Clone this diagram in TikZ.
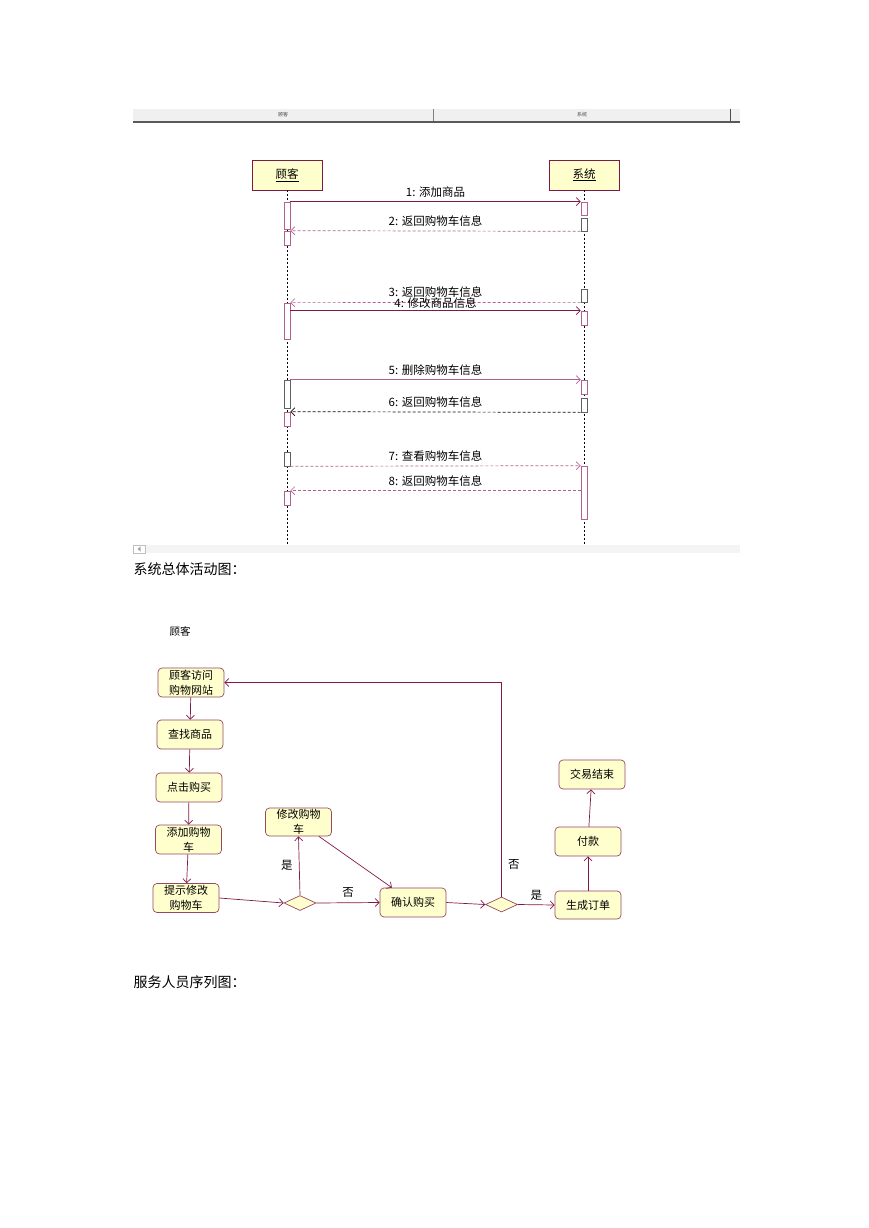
\documentclass[tikz,border=0pt]{standalone}
\usepackage{fontspec}
\newfontfamily\cjk{Noto Sans CJK SC}
\usepackage{tikz}
\usetikzlibrary{shapes.geometric, positioning, arrows.meta}
\definecolor{umlyellow}{RGB}{255,255,206}
\definecolor{umlmaroon}{RGB}{128,24,72}
\definecolor{umlpink}{RGB}{178,96,146}
\definecolor{umlgray}{RGB}{96,96,96}
\definecolor{umlborder}{RGB}{150,72,96}
\newcommand{\colora}{umlmaroon}
\newcommand{\colorb}{umlpink}
\newcommand{\colorc}{umlgray}
\newcommand{\colord}{umlborder}
\tikzset{
>={Straight Barb[length=4pt,width=8pt]}, % open uml arrow heads
lifehead/.style={draw=\colora, fill=umlyellow, line width=0.7pt, minimum width=70pt, minimum height=30pt, inner sep=0pt, font=\cjk\fontsize{11.5}{12}\selectfont},
lifeline/.style={black, line width=0.8pt, dash pattern=on 2pt off 2pt},
act/.style={draw=\colorb, fill=white, line width=0.7pt, minimum width=6pt, inner sep=0pt}, % activation box
actg/.style={act, draw=\colorc},
msg/.style={->, \colora, line width=0.7pt, font=\cjk\fontsize{11.5}{12}\selectfont},
ret/.style={msg, \colorb, dash pattern=on 3pt off 2pt},
activity/.style={draw=\colord, line width=0.7pt, rounded corners=4pt, fill=umlyellow, minimum width=66pt, minimum height=29pt, inner sep=1pt, align=center, font=\cjk\fontsize{11}{15}\selectfont},
decision/.style={diamond, draw=\colord, line width=0.7pt, fill=umlyellow, minimum width=32pt, minimum height=15pt, inner sep=0pt},
flow/.style={->, \colora, line width=0.7pt, font=\cjk\fontsize{11.5}{12}\selectfont},
}
\begin{document}
\begin{tikzpicture}[x=1pt, y=-1pt]
\useasboundingbox (0,0) rectangle (869,1228);
% header bar of the sequence window
\fill[gray!12] (133,109) rectangle (740,121);
\draw[gray!70!black, line width=1.5pt] (133,122) -- (740,122);
\draw[gray] (433,109) -- (433,121);
\draw[gray!60!black] (730,109) -- (730,121);
\node[font=\cjk\fontsize{5}{5}\selectfont, gray!60!black] (barcust) at (283,115) {顾客};
\node[font=\cjk\fontsize{5}{5}\selectfont, gray!60!black] (barsys) at (582,115) {系统};

% lifelines
\node[lifehead] (cust) at (287,175) {\underline{顾客}};
\node[lifehead] (sys) at (584,175) {\underline{系统}};
\coordinate (custend) at (287,545);
\coordinate (sysend) at (584,545);
\draw[lifeline] (cust.south) -- (custend);
\draw[lifeline] (sys.south) -- (sysend);

% activations
\node[act, minimum height=27pt] (cA) at (287,215.5) {};
\node[act, minimum height=14pt] (cB) at (287,238) {};
\node[act, minimum height=36pt] (cC) at (287,321) {};
\node[actg, minimum height=28pt] (cD) at (287,394) {};
\node[act, minimum height=14pt] (cE) at (287,419) {};
\node[actg, minimum height=14pt] (cF) at (287,459) {};
\node[act, minimum height=14pt] (cG) at (287,498) {};
\node[act, minimum height=13pt] (sA) at (584,208.5) {};
\node[actg, minimum height=13pt] (sB) at (584,224.5) {};
\node[actg, minimum height=13pt] (sC) at (584,295.5) {};
\node[act, minimum height=14pt] (sD) at (584,318) {};
\node[act, minimum height=14pt] (sE) at (584,387) {};
\node[actg, minimum height=14pt] (sF) at (584,405) {};
\node[act, minimum height=53pt] (sG) at (584,492.5) {};

% messages
\path (cA.north east) edge[msg] node[above=1pt, black] {1: 添加商品} (sA.north west); % cust to sys
\path (sB.south west) edge[ret] node[above=1pt, black] {2: 返回购物车信息} (cB.north east); % sys to cust
\path (sC.south west) edge[ret] node[above=1pt, black] {3: 返回购物车信息} (cC.north east);
\path (cC.east |- sD.north) edge[msg] node[above=-1pt, black] {4: 修改商品信息} (sD.north west);
\path (cD.north east) edge[msg, \colorb] node[above=1pt, black] {5: 删除购物车信息} (sE.north west);
\path (sF.south west) edge[ret, black!80!umlmaroon] node[above=1pt, black] {6: 返回购物车信息} (cE.north east);
\path (cF.south east) edge[ret] node[above=1pt, black] {7: 查看购物车信息} (sG.north west);
\path (sG.west |- cG.north) edge[ret] node[above=1pt, black] {8: 返回购物车信息} (cG.north east);

% scroll bar
\fill[gray!9] (133,545) rectangle (740,553);
\draw[gray!50, fill=white] (133,545) rectangle (145,553);
\fill[gray!70] (137.5,549) -- (140.5,546.5) -- (140.5,551.5) -- cycle;

\node[anchor=west, font=\cjk\fontsize{14}{14}\selectfont] (title) at (130,569) {系统总体活动图：};
\node[font=\cjk\fontsize{10.5}{11}\selectfont] (lane) at (180,631) {顾客};

% activity nodes
\node[activity] (visit) at (191,682.5) {顾客访问\\购物网站};
\node[activity] (find) at (190,734.5) {查找商品};
\node[activity] (click) at (189,787.5) {点击购买};
\node[activity] (addcart) at (188.5,839.5) {添加购物\\车};
\node[activity] (prompt) at (186,898) {提示修改\\购物车};
\node[activity, minimum height=28pt] (modify) at (298.5,822) {修改购物\\车};
\node[activity] (confirm) at (413,902.5) {确认购买};
\node[decision] (dec1) at (300,903) {};
\node[decision] (dec2) at (501.5,904.5) {};
\node[activity, minimum height=28pt] (order) at (588,905) {生成订单};
\node[activity] (pay) at (588,841.5) {付款};
\node[activity] (done) at (592,774.5) {交易结束};

% flows
\path (visit) edge[flow] (find);
\path (find) edge[flow] (click);
\path (click) edge[flow] (addcart);
\path (addcart) edge[flow] (prompt);
\path (prompt.east) edge[flow] (dec1.west);
\path (dec1.north) edge[flow] node[left=3pt, black] {是} (modify.south); % yes: edit cart
\path (dec1.east) edge[flow] node[above=2pt, black] {否} (confirm.west);
\path (modify) edge[flow] (confirm);
\path (confirm.east) edge[flow] (dec2.west);
\path (dec2.east) edge[flow] node[above=1pt, black] {是} (order.west);
\draw[flow] (dec2.north) -- node[pos=0.15, right=3pt, black] {否} (dec2.north |- visit.east) -- (visit.east); % back to start
\path (order) edge[flow] (pay);
\path (pay) edge[flow] (done);

\node[anchor=west, font=\cjk\fontsize{14}{14}\selectfont] (nexttitle) at (130,982) {服务人员序列图：};
\end{tikzpicture}
\end{document}
